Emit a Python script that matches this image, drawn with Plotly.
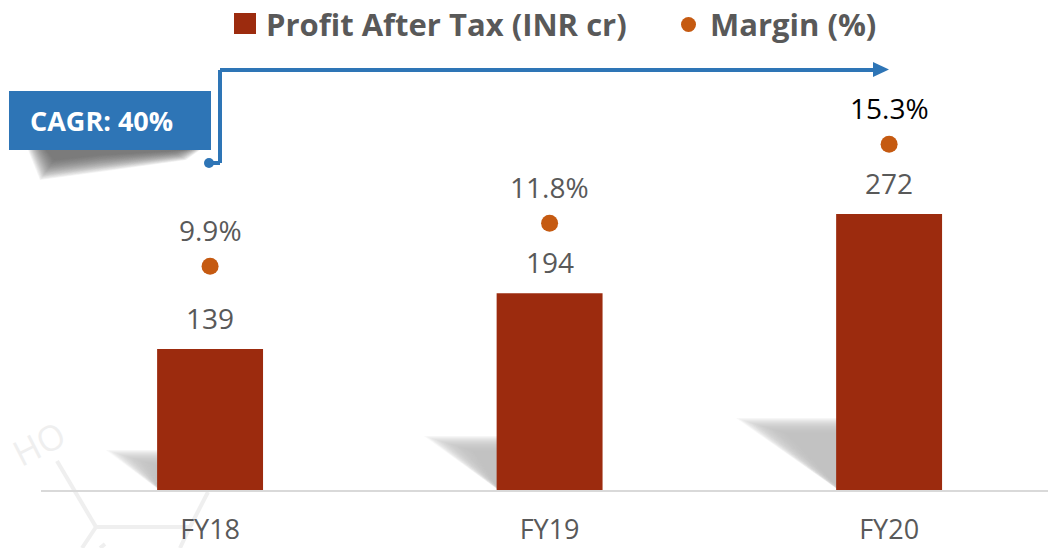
import plotly.graph_objects as go

categories = ["FY18", "FY19", "FY20"]
profit = [139, 194, 272]
margin = [9.9, 11.8, 15.3]
profit_labels = ["139", "194", "272"]
margin_labels = ["9.9%", "11.8%", "15.3%"]
margin_label_colors = ["#595959", "#595959", "#000000"]

W, H = 1048, 548
L, B = 41, 58
BASE = H - B
PW, PH = W - L, H - B
BAR = "#9c2b0e"
DOT = "#c55a11"
BLUE = "#2e75b6"
GREY = "#595959"
FONT = "Open Sans"


def px(x):
    return (x - L) / PW


def py(y):
    return (BASE - y) / PH


def poly(points):
    return "M" + "L".join(f"{px(x):.5f},{py(y):.5f}" for x, y in points) + "Z"


shapes = []
annotations = []


def add_poly(points, color, opacity=1.0, layer="below"):
    shapes.append(dict(type="path", xref="paper", yref="paper", path=poly(points),
                       fillcolor=color, opacity=opacity, line_width=0, layer=layer))


def add_line(points, color, width, layer="below"):
    for (x0, y0), (x1, y1) in zip(points, points[1:]):
        shapes.append(dict(type="line", xref="paper", yref="paper",
                           x0=px(x0), y0=py(y0), x1=px(x1), y1=py(y1),
                           line=dict(color=color, width=width), layer=layer))


def label(text, x, y, size, color, family=FONT, anchor="center", angle=0):
    annotations.append(dict(text=text, xref="paper", yref="paper", x=px(x), y=py(y),
                            xanchor=anchor, yanchor="middle", showarrow=False, textangle=angle,
                            font=dict(family=family, size=size, color=color)))


# faint molecule watermark
WM = "#efefef"
add_line([(57, 461), (96, 527), (190, 527)], WM, 4)
add_line([(96, 527), (82, 548)], WM, 4)
add_line([(208, 492), (190, 527), (180, 548)], WM, 4)
add_line([(105, 544), (100, 548)], WM, 4)
label("HO", 38, 443, 35, "#efefef", angle=-27)


# soft triangular shadows left of each bar
def soft_triangle(x_far, y_top, x_bar):
    steps = 20
    for i in range(steps):
        t = i / (steps - 1)
        inset = 26 * t
        add_poly([(x_far + inset * 1.9, y_top + inset * 0.6),
                  (x_bar, y_top + inset * 0.6),
                  (x_bar, BASE - 1 - inset * 0.1)], "#c2c2c2", 0.11)


soft_triangle(106, 450, 158)
soft_triangle(424, 436, 497)
soft_triangle(736, 418, 837)

# shadow under the CAGR box
outer = [(28, 150), (200, 150), (186, 160), (100, 172), (40, 180)]
core = [(46, 150), (184, 150), (172, 151), (100, 155), (54, 160)]
n = 26
for i in range(n):
    t = i / (n - 1)
    pts = [(a[0] + (b[0] - a[0]) * t, a[1] + (b[1] - a[1]) * t) for a, b in zip(outer, core)]
    add_poly(pts, "#555555", 0.055)

# CAGR box and elbow arrow
add_poly([(9, 91), (211, 91), (211, 150), (9, 150)], BLUE, layer="above")
label("<b>CAGR: 40%</b>", 101, 121, 27, "white")
add_line([(209, 163), (220, 163), (220, 70), (876, 70)], BLUE, 4, "above")
add_poly([(873, 62), (889, 69.5), (873, 77)], BLUE, layer="above")
shapes.append(dict(type="circle", xref="paper", yref="paper", x0=px(204), x1=px(214),
                   y0=py(168), y1=py(158), fillcolor=BLUE, line_width=0, layer="above"))

# legend
add_poly([(234, 13), (256, 13), (256, 34), (234, 34)], BAR, layer="above")
shapes.append(dict(type="circle", xref="paper", yref="paper", x0=px(681), x1=px(696),
                   y0=py(32), y1=py(17), fillcolor=DOT, line_width=0, layer="above"))
label("<b>Profit After Tax (INR cr)</b>", 264, 24, 31, GREY, anchor="left")
label("<b>Margin (%)</b>", 708, 24, 31, GREY, anchor="left")

# data labels
for c, v, t in zip(categories, profit, profit_labels):
    annotations.append(dict(text=t, x=c, y=v, xref="x", yref="y", yshift=31, showarrow=False,
                            font=dict(family=FONT, size=28, color=GREY)))
for c, v, t, col in zip(categories, margin, margin_labels, margin_label_colors):
    annotations.append(dict(text=t, x=c, y=v, xref="x", yref="y2", yshift=36, showarrow=False,
                            font=dict(family=FONT, size=28, color=col)))

fig = go.Figure()
fig.add_bar(x=categories, y=profit, name="Profit After Tax (INR cr)", width=0.312,
            marker=dict(color=BAR, line_width=0), showlegend=False)
fig.add_scatter(x=categories, y=margin, yaxis="y2", mode="markers", name="Margin (%)",
                marker=dict(color=DOT, size=17), showlegend=False)

fig.update_layout(
    width=W, height=H, autosize=False,
    margin=dict(l=L, r=0, t=0, b=B, pad=0),
    paper_bgcolor="white", plot_bgcolor="rgba(0,0,0,0)",
    shapes=shapes, annotations=annotations,
    xaxis=dict(type="category", range=[-0.498, 2.468], showgrid=False, zeroline=False,
               automargin=False, showline=True, linecolor="#d9d9d9", linewidth=2, ticks="",
               tickfont=dict(family=FONT, size=27, color=GREY), ticklabelstandoff=15),
    yaxis=dict(range=[0, 483], visible=False, fixedrange=True, automargin=False),
    yaxis2=dict(range=[0, 21.68], visible=False, overlaying="y", side="right", automargin=False),
    hovermode=False,
)

fig.write_html("out.html", config={"displayModeBar": False},
               post_script="document.body.style.margin='0';document.body.style.overflow='hidden';")
